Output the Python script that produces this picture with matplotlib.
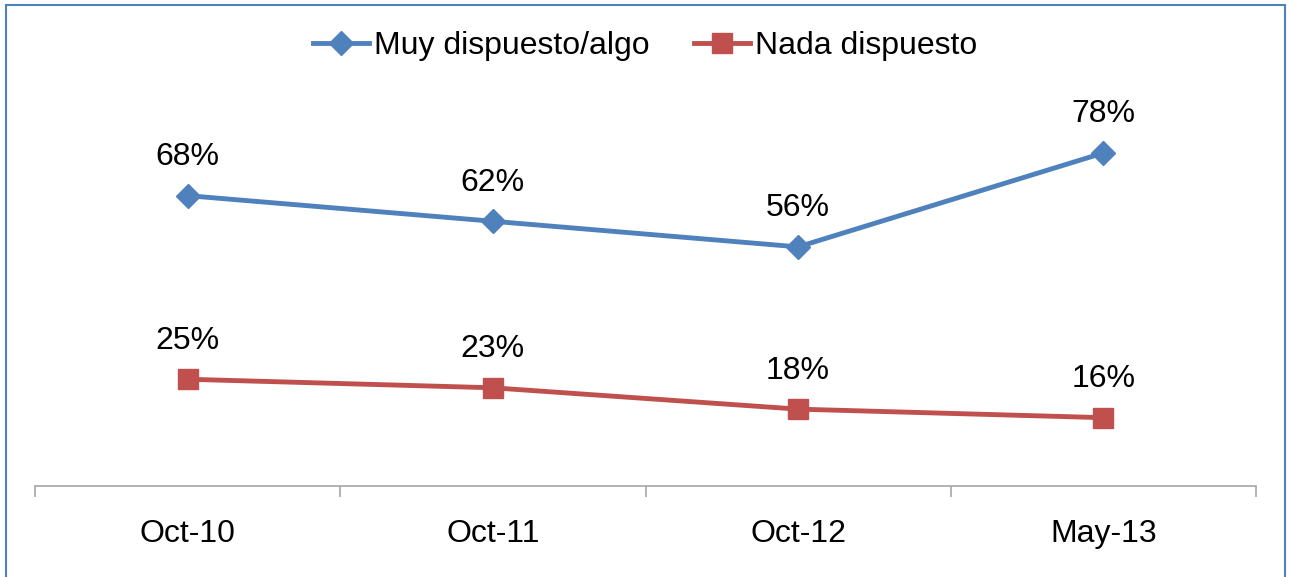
import matplotlib.pyplot as plt
from matplotlib.patches import Rectangle

# datos
periodos = ['Oct-10', 'Oct-11', 'Oct-12', 'May-13']
muy_dispuesto = [68, 62, 56, 78]
nada_dispuesto = [25, 23, 18, 16]
series_nombres = ['Muy dispuesto/algo', 'Nada dispuesto']

plt.rcParams['font.family'] = ['Liberation Sans', 'DejaVu Sans']

azul = '#4F81BD'
rojo = '#C0504D'

fig = plt.figure(figsize=(12.9, 5.77), dpi=100)
ax = fig.add_axes([35 / 1290, 91 / 577, 1221 / 1290, 427 / 577])

x = list(range(len(periodos)))
ax.plot(x, muy_dispuesto, color=azul, lw=3.5, marker='D', ms=12,
        label=series_nombres[0])
ax.plot(x, nada_dispuesto, color=rojo, lw=3.5, marker='s', ms=14,
        label=series_nombres[1])

for xi, v in zip(x, muy_dispuesto):
    ax.annotate(f'{v}%', (xi, v), xytext=(0, 17), textcoords='offset points',
                ha='center', va='bottom', fontsize=23)
for xi, v in zip(x, nada_dispuesto):
    ax.annotate(f'{v}%', (xi, v), xytext=(0, 17), textcoords='offset points',
                ha='center', va='bottom', fontsize=23)

ax.set_xlim(-0.5, len(periodos) - 0.5)
ax.set_ylim(0, 100)
ax.set_xticks(x)
ax.set_xticklabels(periodos, fontsize=23)
ax.set_xticks([i - 0.5 for i in range(len(periodos) + 1)], minor=True)
ax.tick_params(axis='x', which='major', length=0, pad=24)
ax.tick_params(axis='x', which='minor', length=8, width=1.2, color='#A6A6A6')
ax.set_yticks([])
for s in ['top', 'left', 'right']:
    ax.spines[s].set_visible(False)
ax.spines['bottom'].set_color('#A6A6A6')
ax.spines['bottom'].set_linewidth(1.2)

fig.legend(loc='center', bbox_to_anchor=(0.5, 1 - 46 / 577), ncol=2,
           frameon=False, fontsize=23, handlelength=1.75, handletextpad=0.15,
           columnspacing=1.4)

# marco del grafico
fig.patches.append(Rectangle((5.5 / 1290, -0.05), 1279 / 1290, 1.05 - 4.5 / 577,
                             transform=fig.transFigure, fill=False,
                             edgecolor=azul, lw=1.5))

fig.savefig('out.png', dpi=100)
